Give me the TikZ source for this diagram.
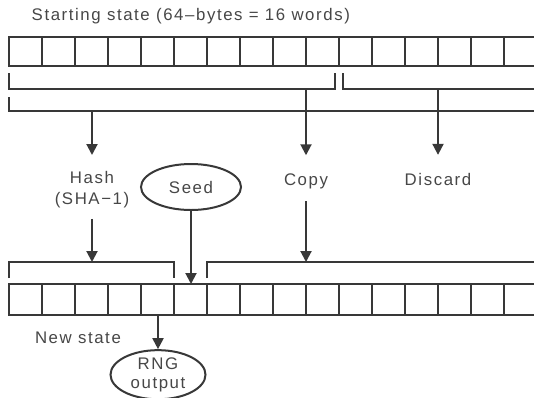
\documentclass[tikz,border=0pt]{standalone}
\usepackage{fontspec}
\setmainfont{Liberation Sans}[LetterSpace=9.5]
\usetikzlibrary{arrows.meta,shapes.geometric}
\definecolor{ink}{HTML}{383838}
\definecolor{txt}{HTML}{474747}
\begin{document}
\begin{tikzpicture}[x=1pt,y=-1pt,line width=2pt,color=ink,
  cell/.style={draw=ink,minimum width=33pt,inner sep=0pt,outer sep=0pt},
  lab/.style={inner sep=0pt,text=txt,font=\fontsize{16.8}{20.6}\selectfont,align=center},
  oval/.style={ellipse,draw=ink,inner sep=0pt,text=txt,
    font=\fontsize{16.8}{19.5}\selectfont,align=center},
  arr/.style={-{Triangle[width=11pt,length=11pt]}}]
\useasboundingbox (0,0) rectangle (534,397);
\clip (0,0) rectangle (534,397);
\fill[white] (0,0) rectangle (534,397);

% title
\node[lab,anchor=base west] (title) at (30.7,20) {Starting state (64–bytes = 16 words)};

% starting state: 16 words
\foreach \i in {1,...,16}
  \node[cell,minimum height=29pt] (a\i) at ({9+33*(\i-0.5)},51.5) {};

% grouping brackets under the starting state
\draw (9,73) -- (9,89) -- (335,89) -- (335,73);
\draw (343,73) -- (343,89) -- (560,89);
\draw (9,97) -- (9,111) -- (560,111);
\coordinate (g1) at (306,89);
\coordinate (g2) at (438,89);
\coordinate (hsrc) at (92,111);
\coordinate (csrc) at (306,111);
\coordinate (dsrc) at (438,111);
\draw (g1) -- (csrc);
\draw (g2) -- (dsrc);

% operations
\node[lab,anchor=north] (hash) at (92,170.7) {Hash\\(SHA−1)};
\node[lab,anchor=base] (copy) at (306,185) {Copy};
\node[lab,anchor=base] (discard) at (438,185) {Discard};
\node[oval,minimum width=100pt,minimum height=46pt] (seed) at (191,187) {Seed};

\draw[arr,shorten >=15.7pt] (hsrc) -- (hash.north);
\draw[arr,shorten >=17pt] (csrc) -- (copy.north);
\draw[arr,shorten >=17pt] (dsrc) -- (discard.north);

% new state: 16 words
\foreach \i in {1,...,16}
  \node[cell,minimum height=31pt] (b\i) at ({9+33*(\i-0.5)},299.5) {};

% brackets above the new state
\draw (9,278) -- (9,262) -- (174,262) -- (174,278);
\draw (207,278) -- (207,262) -- (560,262);
\coordinate (hdst) at (92,262);
\coordinate (cdst) at (306,262);

\draw[arr,shorten <=10pt] (hash.south) -- (hdst);
\draw[arr,shorten <=12pt] (copy.south) -- (cdst);
\draw[arr] (seed.south) -- (seed.south |- b6.north);

\node[lab,anchor=base west] (newstate) at (34,343.5) {New state};

% output
\node[oval,minimum width=95pt,minimum height=48pt] (rng) at (158,374.7) {RNG\\output};
\draw[arr] (b5.south -| rng.north) -- (rng.north);
\end{tikzpicture}
\end{document}
